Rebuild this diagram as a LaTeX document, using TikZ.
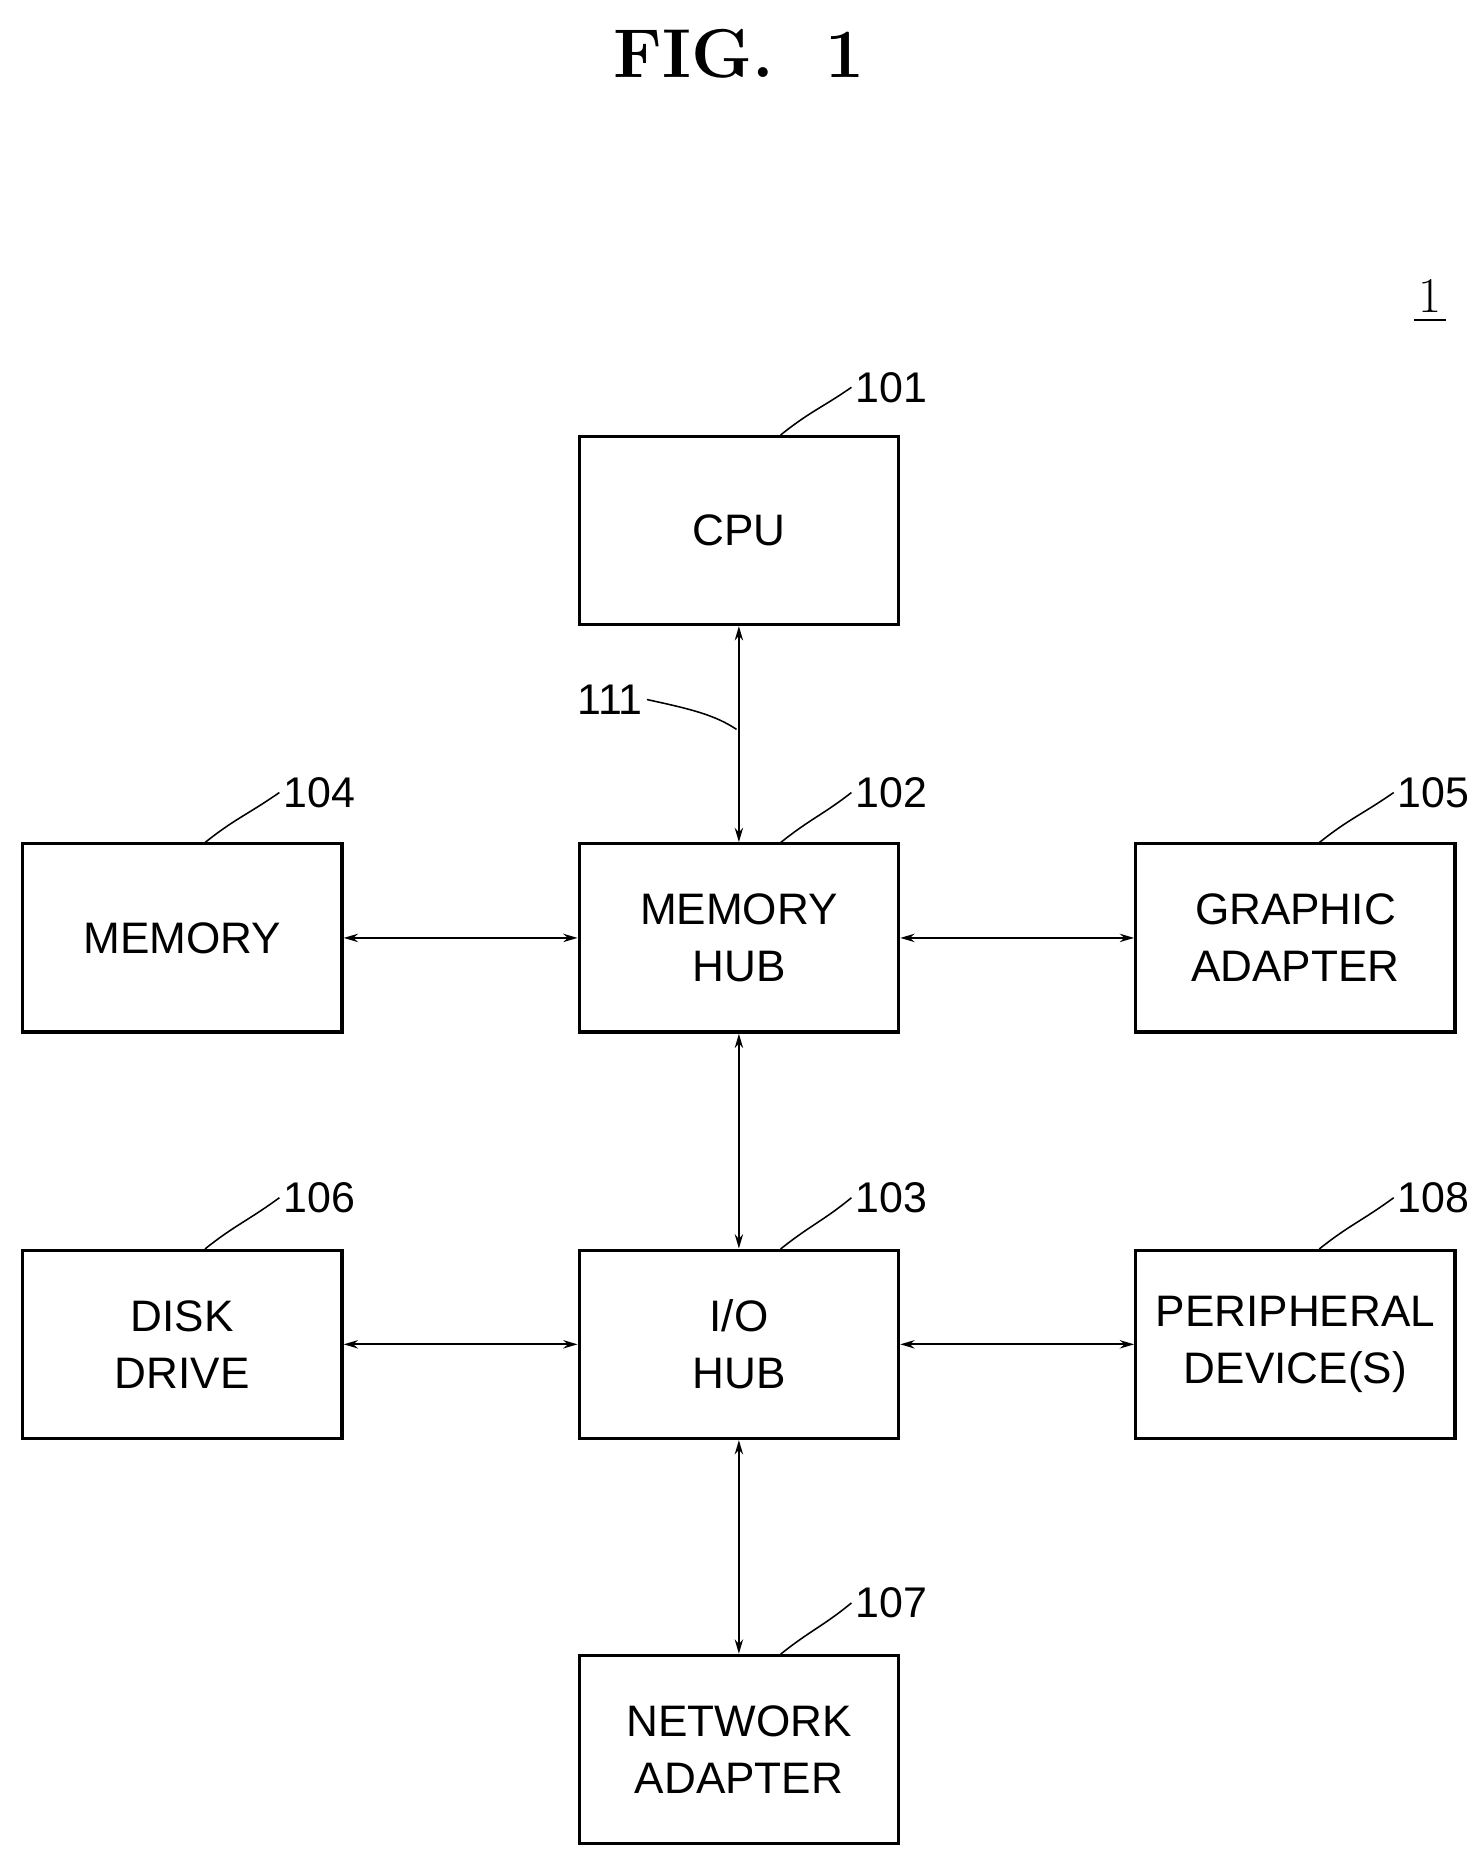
\documentclass[tikz,border=0pt]{standalone}
\usepackage{fontspec}
\setsansfont{Liberation Sans}
\usetikzlibrary{arrows.meta}
\begin{document}
\begin{tikzpicture}[x=1pt,y=-1pt,
  box/.style={draw,line width=2.8pt,minimum width=268pt,minimum height=158pt,align=center,font=\sffamily\fontsize{37}{48}\selectfont},
  con/.style={line width=1.6pt,{Stealth[length=12pt,width=7pt]}-{Stealth[length=12pt,width=7pt]}},
  lbl/.style={font=\sffamily\fontsize{36}{44}\selectfont},
  lead/.style={line width=1.3pt}]
\useasboundingbox (0,0) rectangle (1240,1554);
\node (title) at (620,45) {\bfseries\fontsize{58}{64}\selectfont FIG.\ \ 1};
\node[font=\fontsize{42}{44}\selectfont] (one) at (1200,248) {1};
\draw[line width=2pt] ([yshift=-3pt]one.south west) -- ([yshift=-3pt]one.south east);
\node[box] (cpu) at (620,445) {CPU};
\node[box] (mem) at (153,787) {MEMORY};
\node[box] (mh) at (620,787) {MEMORY\\HUB};
\node[box] (ga) at (1087,787) {GRAPHIC\\ADAPTER};
\node[box] (dd) at (153,1128) {DISK\\DRIVE};
\node[box] (io) at (620,1128) {I/O\\HUB};
\node[box] (pd) at (1087,1128) {PERIPHERAL\\DEVICE(S)};
\node[box] (na) at (620,1468) {NETWORK\\ADAPTER};
\draw[con] (cpu) -- (mh);
\draw[con] (mem) -- (mh);
\draw[con] (mh) -- (ga);
\draw[con] (mh) -- (io);
\draw[con] (dd) -- (io);
\draw[con] (io) -- (pd);
\draw[con] (io) -- (na);
\node[lbl] (l101) at (748,325) {101};
\node[lbl] (l102) at (748,665) {102};
\node[lbl] (l103) at (748,1005) {103};
\node[lbl] (l107) at (748,1345) {107};
\node[lbl] (l104) at (268,665) {104};
\node[lbl] (l106) at (268,1005) {106};
\node[lbl] (l105) at (1203,665) {105};
\node[lbl] (l108) at (1203,1005) {108};
\node[lbl] (l111) at (512,587) {111};
\coordinate (a) at (655,365); \draw[lead] (a) .. controls (680,345) and (690,342) .. (l101.west);
\coordinate (b) at (655,707); \draw[lead] (b) .. controls (680,687) and (690,684) .. (l102.west);
\coordinate (c) at (655,1048); \draw[lead] (c) .. controls (680,1028) and (690,1025) .. (l103.west);
\coordinate (d) at (655,1388); \draw[lead] (d) .. controls (680,1368) and (690,1365) .. (l107.west);
\coordinate (e) at (172,707); \draw[lead] (e) .. controls (197,687) and (207,684) .. (l104.west);
\coordinate (f) at (172,1048); \draw[lead] (f) .. controls (197,1028) and (207,1025) .. (l106.west);
\coordinate (g) at (1107,707); \draw[lead] (g) .. controls (1132,687) and (1142,684) .. (l105.west);
\coordinate (h) at (1107,1048); \draw[lead] (h) .. controls (1132,1028) and (1142,1025) .. (l108.west);
\coordinate (k) at (618,612); \draw[lead] (l111.east) .. controls (580,595) and (600,600) .. (k);
\end{tikzpicture}
\end{document}
